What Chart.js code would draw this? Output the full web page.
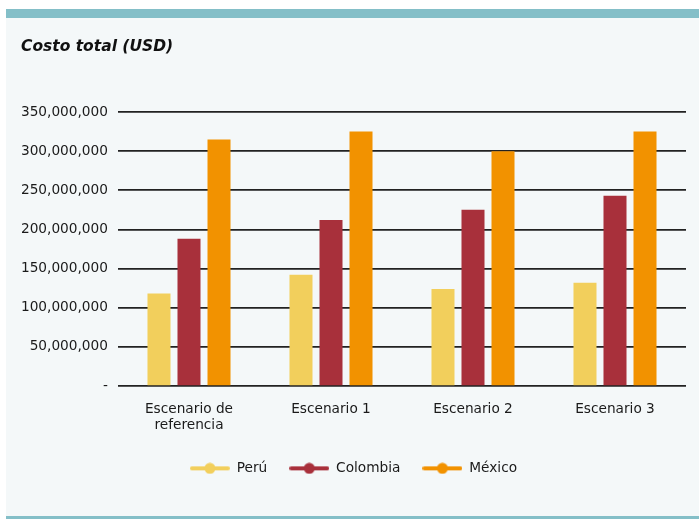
<!DOCTYPE html>
<html>
<head>
<meta charset="utf-8">
<script src="https://cdn.jsdelivr.net/npm/chart.js@4.4.1/dist/chart.umd.min.js"></script>
<style>
  html, body { margin: 0; padding: 0; background: #ffffff; }
  #wrap { position: relative; width: 699px; height: 519px; }
  canvas { display: block; }
</style>
</head>
<body>
<div id="wrap"><canvas id="chart" width="699" height="519"></canvas></div>
<script>
// Scenario categories and total cost per country (USD)
const categories = [['Escenario de', 'referencia'], 'Escenario 1', 'Escenario 2', 'Escenario 3'];
const peru     = [118000000, 142000000, 124000000, 132000000];
const colombia = [188000000, 212000000, 225000000, 243000000];
const mexico   = [315000000, 325000000, 300000000, 325000000];
const seriesNames = ['Perú', 'Colombia', 'México'];
const yTicks = [0, 50000000, 100000000, 150000000, 200000000, 250000000, 300000000, 350000000];

const COLORS = ['#f2cf5c', '#a8303b', '#f29200'];
const FONT = "'DejaVu Sans', Verdana, sans-serif";
const TEXT_SIZE = 13.7;

// Legend marker: a short line with a dot in the middle
function lineDotMarker(color) {
  const c = document.createElement('canvas');
  c.width = 40; c.height = 12;
  const g = c.getContext('2d');
  g.strokeStyle = color;
  g.lineWidth = 4;
  g.lineCap = 'round';
  g.beginPath(); g.moveTo(2, 6); g.lineTo(38, 6); g.stroke();
  g.fillStyle = color;
  g.beginPath(); g.arc(20, 6, 5.5, 0, Math.PI * 2); g.fill();
  return c;
}

// Card background with teal rules above and below
const panelBackground = {
  id: 'panelBackground',
  beforeDraw(chart) {
    const ctx = chart.ctx;
    ctx.save();
    ctx.fillStyle = '#ffffff';
    ctx.fillRect(0, 0, chart.width, chart.height);
    ctx.fillStyle = '#f4f8f9';
    ctx.fillRect(6, 18, chart.width - 6, 498);
    ctx.fillStyle = '#84bfc8';
    ctx.fillRect(6, 9, chart.width - 6, 9);
    ctx.fillRect(6, 516, chart.width - 6, 3);
    ctx.restore();
  }
};

const datasets = [peru, colombia, mexico].map((values, i) => ({
  label: seriesNames[i],
  data: values,
  backgroundColor: COLORS[i],
  borderWidth: 0,
  pointStyle: lineDotMarker(COLORS[i]),
  categoryPercentage: 0.634,
  barPercentage: 0.767
}));

new Chart(document.getElementById('chart'), {
  type: 'bar',
  data: { labels: categories, datasets },
  plugins: [panelBackground],
  options: {
    responsive: false,
    animation: false,
    layout: { padding: { left: 21, right: 13, top: 0, bottom: 33.8 } },
    plugins: {
      title: {
        display: true,
        text: 'Costo total (USD)',
        align: 'start',
        color: '#111111',
        font: { family: FONT, size: 15.5, weight: 'bold', style: 'italic', lineHeight: 1.2 },
        padding: { top: 38, bottom: 55.4 }
      },
      legend: {
        position: 'bottom',
        labels: {
          usePointStyle: true,
          pointStyleWidth: 40,
          padding: 22,
          color: '#1a1a1a',
          font: { family: FONT, size: TEXT_SIZE }
        }
      },
      tooltip: { enabled: false }
    },
    scales: {
      x: {
        grid: { display: false, drawTicks: false },
        border: { display: false },
        ticks: { color: '#1a1a1a', font: { family: FONT, size: TEXT_SIZE, lineHeight: 1.2 }, padding: 15, maxRotation: 0 },
        afterFit(scale) { scale.height = 53.5; }
      },
      y: {
        min: 0,
        max: 350000000,
        afterBuildTicks(scale) { scale.ticks = yTicks.map(v => ({ value: v })); },
        grid: { color: '#222222', lineWidth: 1.7, drawTicks: false },
        border: { display: false },
        ticks: {
          color: '#1a1a1a',
          font: { family: FONT, size: TEXT_SIZE },
          padding: 10,
          callback: v => v === 0 ? '-' : v.toLocaleString('en-US')
        },
        afterFit(scale) { scale.width = 97; }
      }
    }
  }
});
</script>
</body>
</html>
